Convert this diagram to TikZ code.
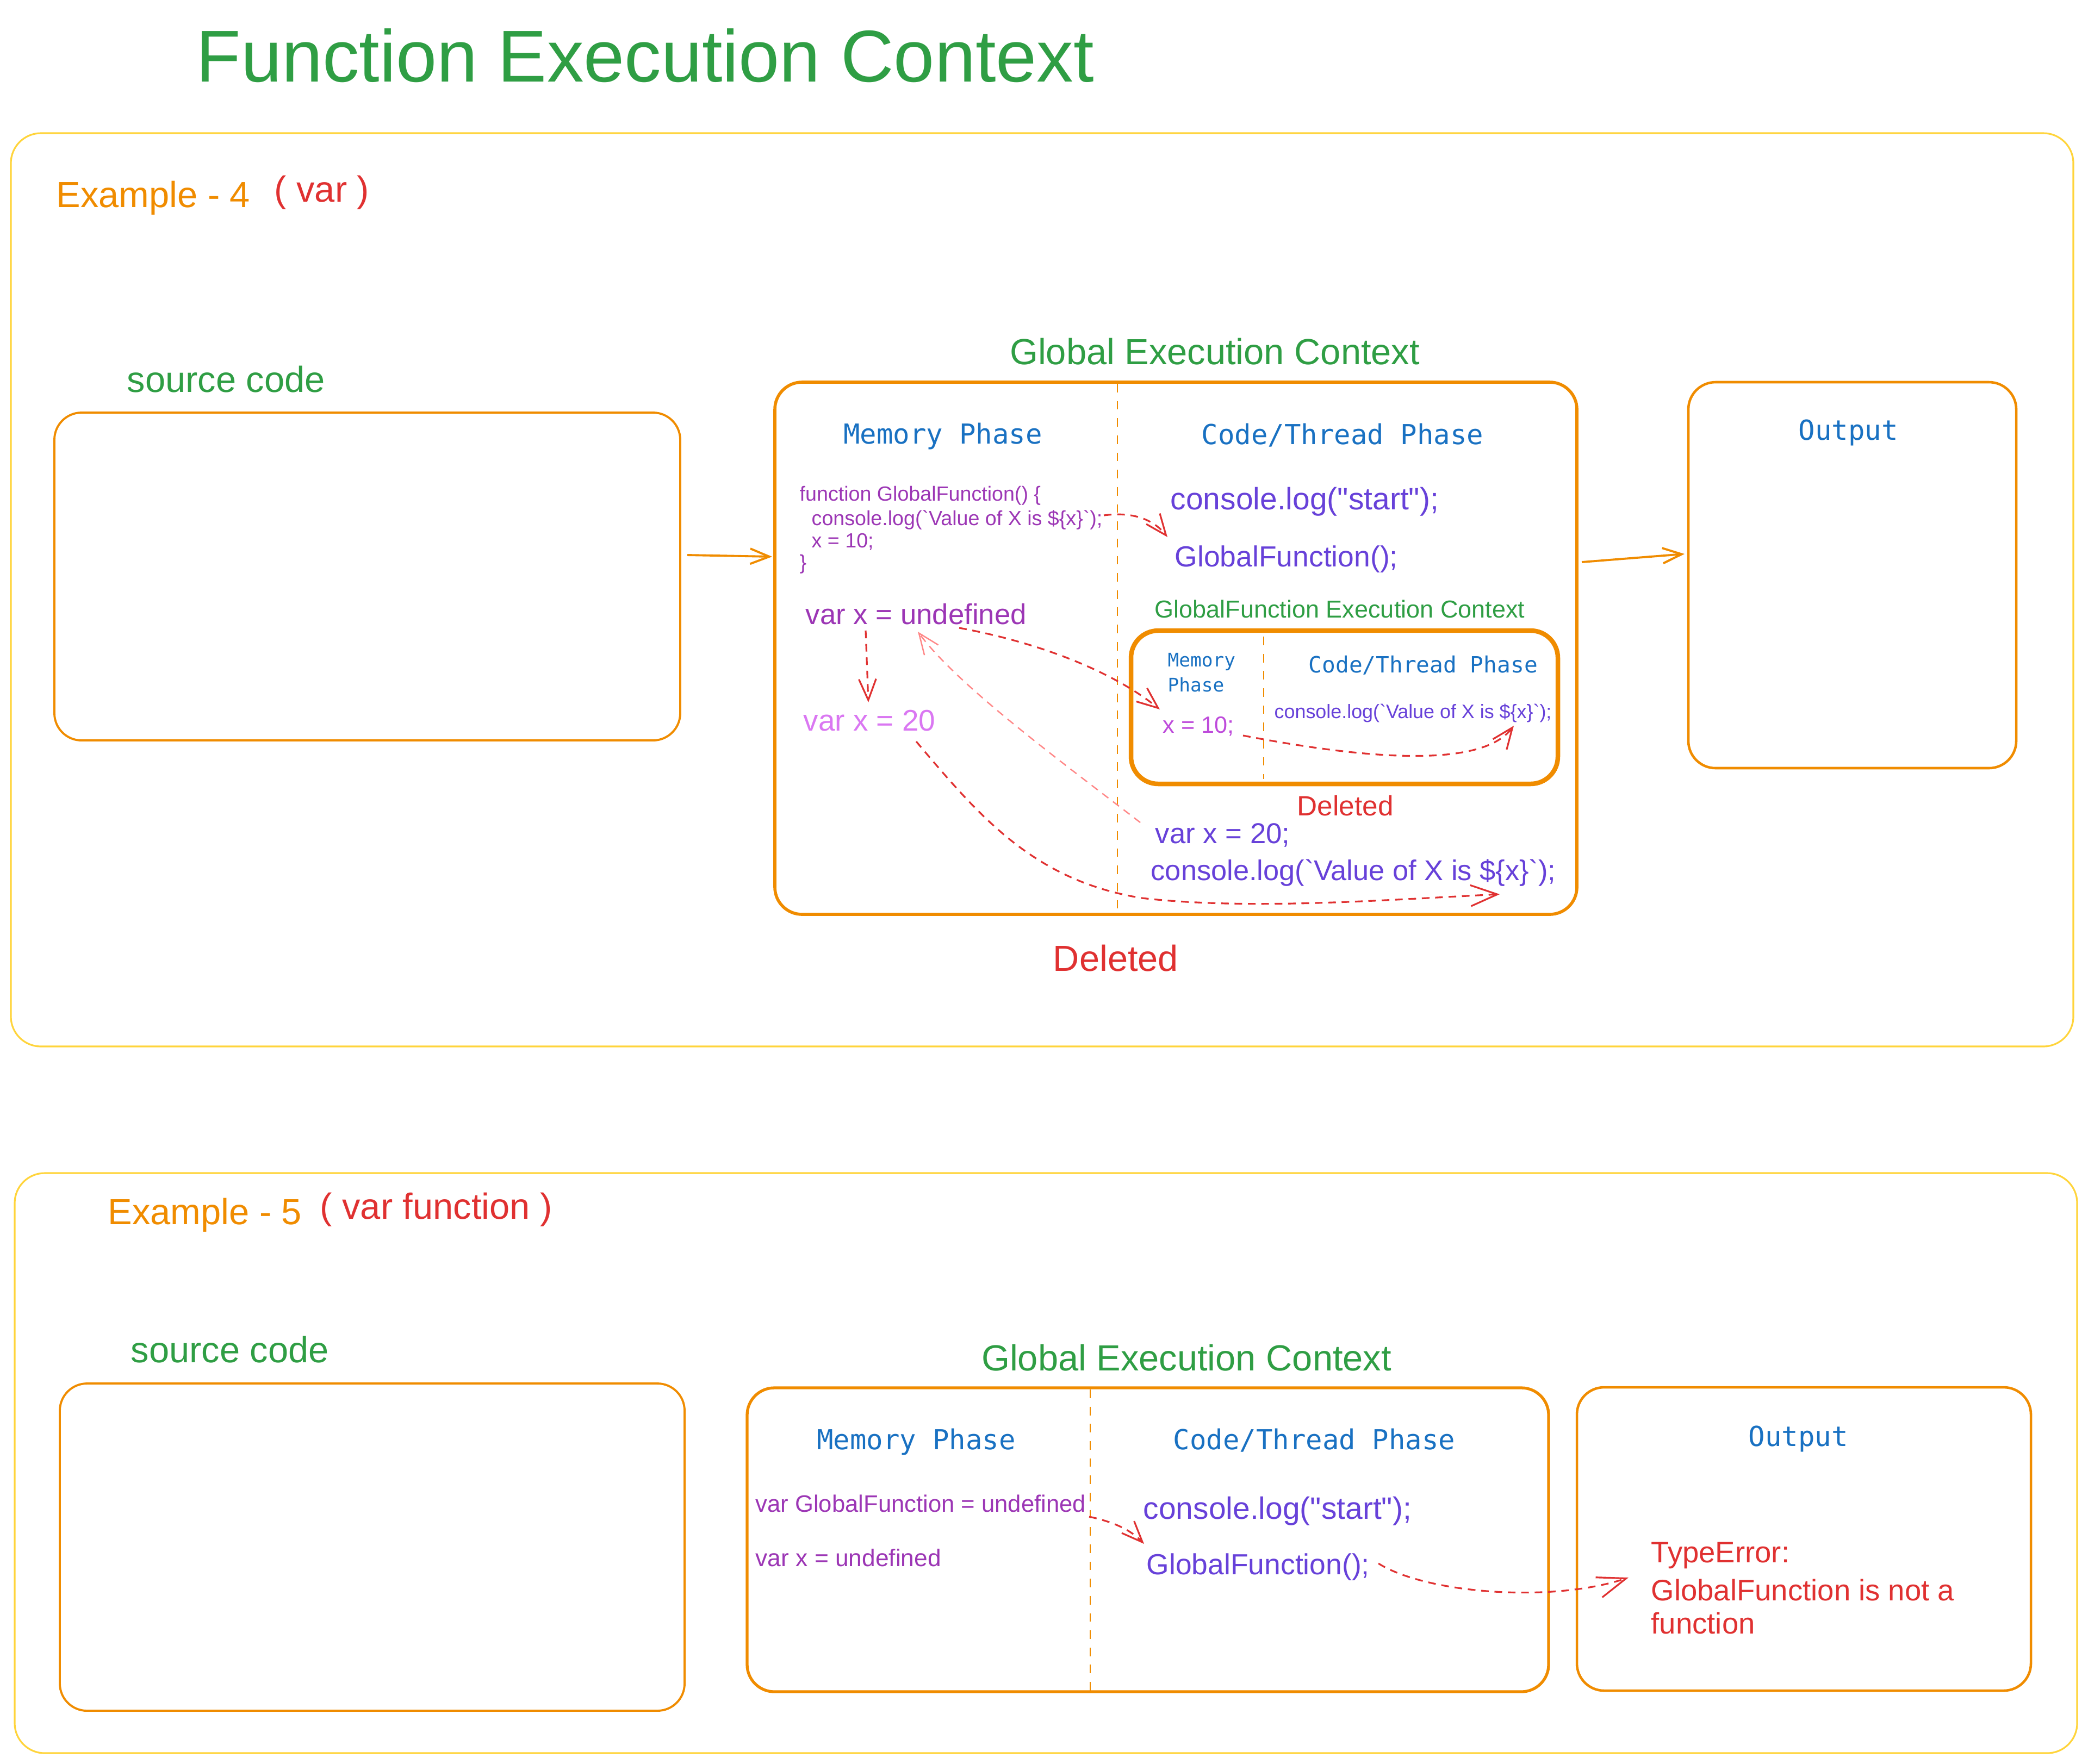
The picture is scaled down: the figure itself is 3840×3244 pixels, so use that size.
\documentclass[tikz,border=0pt]{standalone}
\usepackage{fontspec}
\setmainfont{Liberation Sans}[Ligatures=TeXOff]
\newfontfamily\monof{DejaVu Sans Mono}[Ligatures=TeXOff]
\usetikzlibrary{arrows.meta,fit}
\definecolor{cgreen}{HTML}{2F9E44}
\definecolor{corange}{HTML}{F08C00}
\definecolor{cyellow}{HTML}{FFD43B}
\definecolor{cred}{HTML}{E03131}
\definecolor{cblue}{HTML}{1971C2}
\definecolor{cviolet}{HTML}{6741D9}
\definecolor{cgrape}{HTML}{9C36B5}
\definecolor{clilac}{HTML}{DA77F2}
\definecolor{cpink}{HTML}{BE4BDB}
\definecolor{clightred}{HTML}{FF8787}
\newcommand\fsz[1]{\fontsize{#1pt}{#1pt}\selectfont}
\newcommand\bt{\symbol{96}}
\begin{document}
\begin{tikzpicture}[x=0.01cm,y=-0.01cm,
 txt/.style={inner sep=0pt,anchor=west,yshift=-0.045cm},
 ctxt/.style={inner sep=0pt,yshift=-0.045cm},
 ybox/.style={draw=cyellow,line width=0.9pt,rounded corners=0.55cm,inner sep=0pt},
 obox/.style={draw=corange,line width=1.1pt,rounded corners=0.5cm,inner sep=0pt},
 divider/.style={draw=corange,line width=0.7pt,dash pattern=on 4.5pt off 4.5pt},
 rarrow/.style={draw=cred,line width=0.9pt,dash pattern=on 4pt off 3pt,-{Straight Barb[length=11pt,width=9pt]}},
 oarrow/.style={draw=corange,line width=1.1pt,-{Straight Barb[length=10pt,width=8pt]}},
 head/.style={ctxt,text=cblue,font=\monof\fsz{14.4}}
]
\useasboundingbox[fill=white] (0,0) rectangle (3840,3244);

% title
\node[txt,text=cgreen,font=\fsz{38.4}] (title) at (360,98) {Function Execution Context};

% ===== Example 4 =====
\node[ybox,fit={(20,245) (3813,1925)}] (ex4) {};
\node[txt,text=corange,font=\fsz{19}] (ex4lbl) at (103,360) {Example - 4};
\node[txt,text=cred,font=\fsz{19}] (ex4kind) at (504,350) {( var )};
\node[txt,text=cgreen,font=\fsz{19}] (src4lbl) at (233,693) {source code};
\node[obox,fit={(100,759) (1251,1362)}] (src4) {};
\node[ctxt,text=cgreen,font=\fsz{19}] (gec4lbl) at (2234,642) {Global Execution Context};
\node[obox,line width=1.6pt,fit={(1425,703) (2900,1682)}] (gec4) {};
\draw[divider] (2055,706) -- (2055,1680);
\node[head] (mem4) at (1734,798) {Memory Phase};
\node[head] (code4) at (2469,796) {Code/Thread Phase};

\node[txt,text=cgrape,font=\fsz{10.7}] (f1) at (1470,907) {function GlobalFunction() \{};
\node[txt,text=cgrape,font=\fsz{10.7}] (f2) at (1492,952) {console.log(\bt Value of X is \$\{x\}\bt);};
\node[txt,text=cgrape,font=\fsz{10.7}] (f3) at (1492,992) {x = 10;};
\node[txt,text=cgrape,font=\fsz{10.7}] (f4) at (1470,1033) {\}};

\node[txt,text=cviolet,font=\fsz{16.2}] (start4) at (2152,918) {console.log("start");};
\node[txt,text=cviolet,font=\fsz{15.2}] (call4) at (2160,1024) {GlobalFunction();};
\node[txt,text=cgrape,font=\fsz{15}] (undef4) at (1481,1125) {var x = undefined};
\node[txt,text=clilac,font=\fsz{15.6}] (twenty4) at (1477,1321) {var x = 20};

\node[txt,text=cgreen,font=\fsz{12.8}] (gfeclbl) at (2123,1116) {GlobalFunction Execution Context};
\node[obox,line width=2.4pt,fit={(2080,1160) (2865,1442)}] (gfec) {};
\draw[divider] (2324,1171) -- (2324,1433);
\node[txt,text=cblue,font=\monof\fsz{9.8}] (gfmem1) at (2147,1213) {Memory};
\node[txt,text=cblue,font=\monof\fsz{9.8}] (gfmem2) at (2147,1255) {Phase};
\node[txt,text=cblue,font=\monof\fsz{11.7}] (gfcode) at (2406,1219) {Code/Thread Phase};
\node[txt,text=cviolet,font=\fsz{10.2}] (gflog) at (2343,1307) {console.log(\bt Value of X is \$\{x\}\bt);};
\node[txt,text=cpink,font=\fsz{12.3}] (ten) at (2138,1332) {x = 10;};
\node[txt,text=cred,font=\fsz{14.6}] (del1) at (2385,1478) {Deleted};
\node[txt,text=cviolet,font=\fsz{15}] (set20) at (2124,1532) {var x = 20;};
\node[txt,text=cviolet,font=\fsz{14.9}] (log4) at (2116,1601) {console.log(\bt Value of X is \$\{x\}\bt);};
\node[ctxt,text=cred,font=\fsz{19}] (del2) at (2052,1758) {Deleted};

\node[obox,line width=1.3pt,fit={(3105,703) (3708,1413)}] (out4) {};
\node[head] (outlbl4) at (3399,791) {Output};

% connectors ex4
\coordinate (a1s) at (1264,1021); \coordinate (a1e) at (1420,1024);
\draw[oarrow] (a1s) -- (a1e);
\coordinate (a2s) at (2909,1034); \coordinate (a2e) at (3098,1019);
\draw[oarrow] (a2s) -- (a2e);

\coordinate (rA1) at (2030,948); \coordinate (rA2) at (2147,988);
\draw[rarrow] (rA1) .. controls (2090,940) and (2125,960) .. (rA2);
\coordinate (rB1) at (1592,1160); \coordinate (rB2) at (1597,1292);
\draw[rarrow] (rB1) -- (rB2);
\coordinate (rC1) at (1764,1155); \coordinate (rC2) at (2133,1305);
\draw[rarrow] (rC1) .. controls (1900,1180) and (2040,1230) .. (rC2);
\coordinate (rD1) at (2097,1513); \coordinate (rD2) at (1688,1162);
\draw[rarrow,draw=clightred,line width=0.7pt] (rD1) .. controls (1950,1400) and (1760,1260) .. (rD2);
\coordinate (rE1) at (2286,1353); \coordinate (rE2) at (2784,1335);
\draw[rarrow] (rE1) .. controls (2480,1390) and (2720,1420) .. (rE2);
\coordinate (rF1) at (1685,1364); \coordinate (rF2) at (2758,1645);
\draw[rarrow,-{Straight Barb[length=14pt,width=11pt]}] (rF1) .. controls (1800,1500) and (1900,1620) .. (2100,1652) .. controls (2300,1675) and (2550,1655) .. (rF2);

% ===== Example 5 =====
\node[ybox,fit={(27,2158) (3820,3225)}] (ex5) {};
\node[txt,text=corange,font=\fsz{19}] (ex5lbl) at (198,2231) {Example - 5};
\node[txt,text=cred,font=\fsz{19}] (ex5kind) at (588,2221) {( var function )};
\node[txt,text=cgreen,font=\fsz{19}] (src5lbl) at (240,2478) {source code};
\node[obox,fit={(110,2545) (1259,3147)}] (src5) {};
\node[ctxt,text=cgreen,font=\fsz{19}] (gec5lbl) at (2182,2493) {Global Execution Context};
\node[obox,line width=1.5pt,fit={(1374,2553) (2848,3112)}] (gec5) {};
\draw[divider] (2005,2556) -- (2005,3110);
\node[head] (mem5) at (1685,2648) {Memory Phase};
\node[head] (code5) at (2417,2645) {Code/Thread Phase};
\node[txt,text=cgrape,font=\fsz{12.4}] (gfu5) at (1389,2761) {var GlobalFunction = undefined};
\node[txt,text=cgrape,font=\fsz{12.6}] (xu5) at (1389,2861) {var x = undefined};
\node[txt,text=cviolet,font=\fsz{16.2}] (start5) at (2102,2775) {console.log("start");};
\node[txt,text=cviolet,font=\fsz{15.2}] (call5) at (2108,2878) {GlobalFunction();};
\node[obox,line width=1.3pt,fit={(2900,2552) (3735,3110)}] (out5) {};
\node[head] (outlbl5) at (3307,2642) {Output};
\node[txt,text=cred,font=\fsz{15.5}] (err1) at (3036,2857) {TypeError:};
\node[txt,text=cred,font=\fsz{15.5}] (err2) at (3036,2920) {GlobalFunction is not a};
\node[txt,text=cred,font=\fsz{15.5}] (err3) at (3036,2981) {function};

\coordinate (rG1) at (2003,2790); \coordinate (rG2) at (2104,2840);
\draw[rarrow] (rG1) .. controls (2050,2800) and (2080,2815) .. (rG2);
\coordinate (rH1) at (2535,2876); \coordinate (rH2) at (2995,2902);
\draw[rarrow,-{Straight Barb[length=15pt,width=11pt]}] (rH1) .. controls (2620,2930) and (2850,2950) .. (rH2);
\end{tikzpicture}
\end{document}
